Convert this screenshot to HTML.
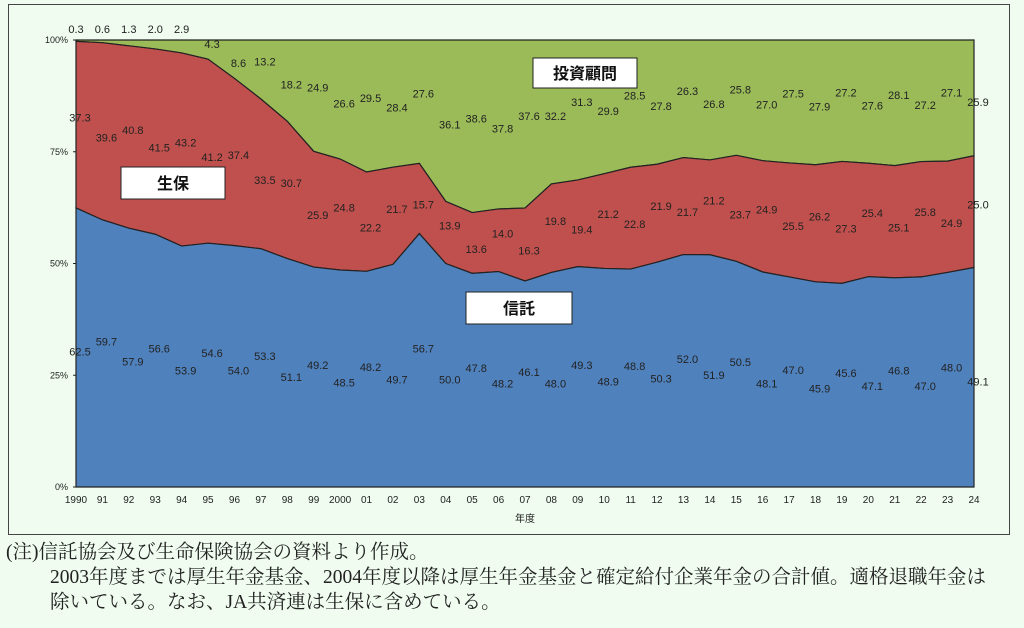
<!DOCTYPE html>
<html><head><meta charset="utf-8"><style>
body{margin:0;background:#effcef;width:1024px;height:628px;overflow:hidden;font-family:"Liberation Sans","Noto Sans CJK JP",sans-serif}
#box{position:absolute;left:8px;top:4px;width:1000px;height:529px;border:1.5px solid #444;background:#effcef}
.note{position:absolute;font-family:"Liberation Serif","Noto Serif CJK SC",serif;font-size:19.5px;line-height:22px;color:#222;white-space:nowrap}
</style></head><body>
<div id="box"></div>
<svg id="chart" width="1024" height="628" style="position:absolute;left:0;top:0"></svg>
<div class="note" style="left:6px;top:542px">(注)信託協会及び生命保険協会の資料より作成。</div>
<div class="note" style="left:50px;top:567px">2003年度までは厚生年金基金、2004年度以降は厚生年金基金と確定給付企業年金の合計値。適格退職年金は</div>
<div class="note" style="left:50px;top:592px">除いている。なお、JA共済連は生保に含めている。</div>
<script>
const years=["1990","91","92","93","94","95","96","97","98","99","2000","01","02","03","04","05","06","07","08","09","10","11","12","13","14","15","16","17","18","19","20","21","22","23","24"];
const trust=[62.5,59.7,57.9,56.6,53.9,54.6,54.0,53.3,51.1,49.2,48.5,48.2,49.7,56.7,50.0,47.8,48.2,46.1,48.0,49.3,48.9,48.8,50.3,52.0,51.9,50.5,48.1,47.0,45.9,45.6,47.1,46.8,47.0,48.0,49.1];
const life=[37.3,39.6,40.8,41.5,43.2,41.2,37.4,33.5,30.7,25.9,24.8,22.2,21.7,15.7,13.9,13.6,14.0,16.3,19.8,19.4,21.2,22.8,21.9,21.7,21.2,23.7,24.9,25.5,26.2,27.3,25.4,25.1,25.8,24.9,25.0];
const advisor=[0.3,0.6,1.3,2.0,2.9,4.3,8.6,13.2,18.2,24.9,26.6,29.5,28.4,27.6,36.1,38.6,37.8,37.6,32.2,31.3,29.9,28.5,27.8,26.3,26.8,25.8,27.0,27.5,27.9,27.2,27.6,28.1,27.2,27.1,25.9];
const yTicks=[0,25,50,75,100];
const svg=document.getElementById('chart');const NS='http://www.w3.org/2000/svg';
const X0=76,X1=974,Y0=487,Y1=40;
const x=i=>X0+(X1-X0)*i/(years.length-1);
const y=v=>Y0-(Y0-Y1)*v/100;
function mk(t,a,p){const e=document.createElementNS(NS,t);for(const k in a)e.setAttribute(k,a[k]);(p||svg).appendChild(e);return e;}
const n=years.length;
const tot=i=>trust[i]+life[i]+advisor[i];
const b1=[],b2=[];
for(let i=0;i<n;i++){const t=tot(i);b1.push(trust[i]/t*100);b2.push((trust[i]+life[i])/t*100);}
function area(lo,hi,fill,name){let d='M'+x(0)+','+y(hi[0]);for(let i=1;i<n;i++)d+='L'+x(i)+','+y(hi[i]);for(let i=n-1;i>=0;i--)d+='L'+x(i)+','+y(lo[i]);d+='Z';
const p=mk('path',{d:d,fill:fill,stroke:'#222','stroke-width':1.2});

}
area(b2,new Array(n).fill(100),'#9bbb59','area-advisor');
area(b1,b2,'#c0504d','area-life');
area(new Array(n).fill(0),b1,'#4f81bd','area-trust');
mk('line',{x1:X0,y1:Y1,x2:X0,y2:Y0,stroke:'#222'});
mk('line',{x1:X0,y1:Y0,x2:X1,y2:Y0,stroke:'#222'});
yTicks.forEach(v=>{const t=mk('text',{x:X0-8,y:y(v)+3,'font-size':9,'text-anchor':'end',fill:'#222'});t.textContent=v+'%';


mk('line',{x1:X0-3,y1:y(v),x2:X0,y2:y(v),stroke:'#222'});});
years.forEach((yr,i)=>{const t=mk('text',{x:x(i),y:503,'font-size':10,'text-anchor':'middle',fill:'#222'});t.textContent=yr;

});
const xt=mk('text',{x:525,y:522,'font-size':10,'text-anchor':'middle',fill:'#222'});xt.textContent='年度';


function lab(xx,yy,v,name){const t=mk('text',{x:xx,y:yy,'font-size':11,'text-anchor':'middle',fill:'#222'});t.textContent=v.toFixed(1);

}
for(let i=0;i<n;i++){
 const odd=i%2===1;
 lab(x(i)+4,y(b1[i]/2)+(odd?-8:8),trust[i],'trust-value-label');
 lab(x(i)+4,y((b1[i]+b2[i])/2)+(odd?10:-3),life[i],'life-value-label');
 if(i<5) lab(x(i),33,advisor[i],'advisor-value-label');
 else lab(x(i)+4,Math.max(y((b2[i]+100)/2),y(100)+12)+(odd?-4:8),advisor[i],'advisor-value-label');
}
function box(x0,y0,w,h,txt,name){mk('rect',{x:x0,y:y0,width:w,height:h,fill:'#fff',stroke:'#222'});
const t=mk('text',{x:x0+w/2,y:y0+h/2+6,'font-size':16,'font-weight':'bold','text-anchor':'middle',fill:'#111'});t.textContent=txt;

}
box(533,58,104,30,'投資顧問','legend-advisor');
box(121,167,104,32,'生保','legend-life');
box(466,292,106,32,'信託','legend-trust');
</script>
</body></html>
